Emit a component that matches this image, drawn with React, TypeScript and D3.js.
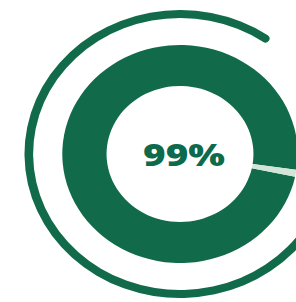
import React from "react";
import { arc, pie } from "d3";

// progress value, shown as a ring
const parts = ["done", "rest"];
const values = [99, 1];
const centerLabel = ["99%"];
// decorative outer stroke, start / end in degrees (clockwise from 12 o'clock)
const outerArcDegrees = [120, 396];

const colors = { done: "#116b4a", rest: "#d3e5d9", text: "#0d6a4c" };

function App() {
  const width = 296;
  const height = 302;
  const cx = 180;
  const cy = 154;

  const startAngle = (102 * Math.PI) / 180;
  const pieGen = pie<number>()
    .sort(null)
    .startAngle(startAngle)
    .endAngle(startAngle + Math.PI * 2);
  const slices = pieGen(values);

  const ringArc = arc<any>().innerRadius(68).outerRadius(109);

  const outerArc = arc<any>()
    .innerRadius(136)
    .outerRadius(144)
    .cornerRadius(4)
    .startAngle((outerArcDegrees[0] * Math.PI) / 180)
    .endAngle((outerArcDegrees[1] * Math.PI) / 180);

  return (
    <svg
      width={width}
      height={height}
      style={{ position: "absolute", left: 0, top: 0, background: "#fff" }}
    >
      <g transform={`translate(${cx},${cy}) scale(1.08,1)`}>
        <path d={outerArc(null) || ""} fill={colors.done} />
        {slices.map((s, i) => (
          <path
            key={parts[i]}
            d={ringArc(s) || ""}
            fill={colors[parts[i] as "done" | "rest"]}
          />
        ))}
      </g>
      <text
        x={184}
        y={166}
        textAnchor="middle"
        fontFamily="'Open Sans', sans-serif"
        fontWeight={800}
        fontSize={30}
        fill={colors.text}
        textLength={82}
        lengthAdjust="spacingAndGlyphs"
      >
        {centerLabel[0]}
      </text>
    </svg>
  );
}

export default App;
